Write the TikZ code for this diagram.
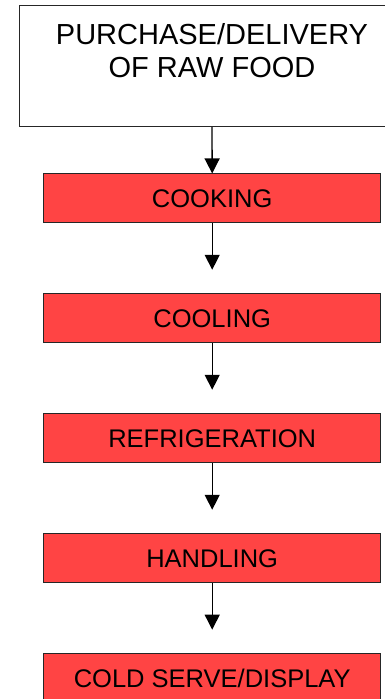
\documentclass[tikz,border=0pt]{standalone}
\usepackage{fontspec}
\setmainfont{Liberation Sans}
\usetikzlibrary{arrows.meta,calc}
\definecolor{boxred}{RGB}{255,68,68}
\begin{document}
\begin{tikzpicture}[x=1pt,y=-1pt,
  redbox/.style={draw=black!85, line width=1pt, fill=boxred, minimum width=337pt,
    minimum height=48.7pt, inner sep=0pt, text height=18pt, text depth=0pt,
    font=\fontsize{25.5}{30}\selectfont},
  topbox/.style={draw=black!85, line width=1pt, minimum width=386pt,
    minimum height=120.7pt, inner sep=0pt},
  toptext/.style={font=\fontsize{29}{33.3}\selectfont, align=center, anchor=north, inner sep=0pt},
  arr/.style={line width=1.3pt, -{Triangle[length=15pt,width=15pt]}}]
\useasboundingbox (0,0) rectangle (385,699);
\node[topbox] (top) at (212,66.3) {};
\node[toptext] (toplbl) at (212,23) {PURCHASE/DELIVERY\\OF RAW FOOD};
\node[redbox] (cook) at (212.2,198.3) {COOKING};
\node[redbox] (cool) at (212.2,318.3) {COOLING};
\node[redbox] (refr) at (212.2,438.3) {REFRIGERATION};
\node[redbox] (hand) at (212.2,558.2) {HANDLING};
\node[redbox] (cold) at (212.2,678.1) {COLD SERVE/DISPLAY};
\coordinate (t2) at ($(cook.south)+(0,46.6)$);
\coordinate (t3) at ($(cool.south)+(0,46.6)$);
\coordinate (t4) at ($(refr.south)+(0,46.6)$);
\coordinate (t5) at ($(hand.south)+(0,46.6)$);
\draw[arr] (top.south) -- (cook.north);
\draw[arr] (cook.south) -- (t2);
\draw[arr] (cool.south) -- (t3);
\draw[arr] (refr.south) -- (t4);
\draw[arr] (hand.south) -- (t5);
\end{tikzpicture}
\end{document}
